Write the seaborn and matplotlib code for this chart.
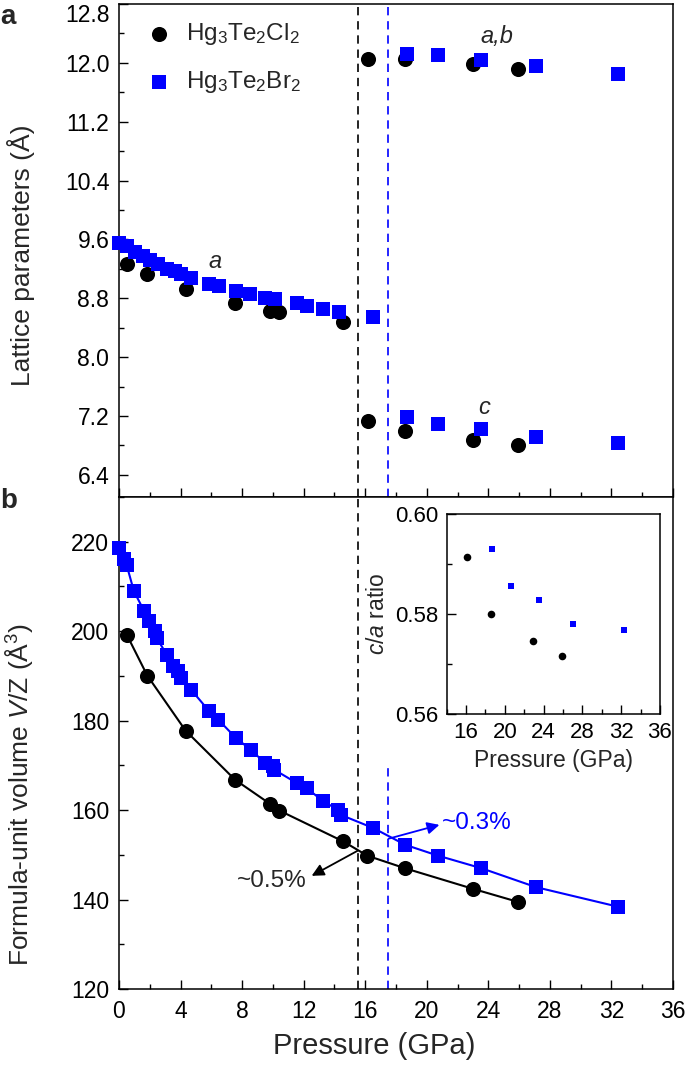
import numpy as np
import pandas as pd
import matplotlib
matplotlib.use("Agg")
import matplotlib.pyplot as plt
from matplotlib.ticker import MultipleLocator, FormatStrFormatter
import seaborn as sns

BLUE = "#0000FF"

# transition pressures (GPa)
p_trans_cl = 15.55
p_trans_br = 17.5

# ---- lattice parameters, Hg3Te2Cl2 ----
p_cl_low = [0.5, 1.84, 4.33, 7.56, 9.81, 10.42, 14.58]
a_cl_low = [9.27, 9.13, 8.93, 8.74, 8.63, 8.61, 8.48]
p_cl_high = [16.15, 18.6, 23.0, 25.9]
ab_cl_high = [12.05, 12.05, 11.98, 11.92]
c_cl_high = [7.13, 7.00, 6.88, 6.81]

# ---- lattice parameters, Hg3Te2Br2 ----
p_br_low = [0.02, 0.5, 1.04, 1.58, 2.01, 2.55, 3.1, 3.64, 4.0, 4.68, 5.85,
            6.5, 7.6, 8.51, 9.49, 10.14, 11.55, 12.2, 13.28, 14.27, 16.53]
a_br_low = [9.55, 9.505, 9.43, 9.37, 9.32, 9.26, 9.20, 9.165, 9.13, 9.08, 9.0,
            8.97, 8.90, 8.86, 8.80, 8.79, 8.73, 8.70, 8.65, 8.61, 8.55]
p_br_high = [18.7, 20.7, 23.55, 27.1, 32.4]
ab_br_high = [12.12, 12.10, 12.045, 11.96, 11.85]
c_br_high = [7.19, 7.09, 7.02, 6.92, 6.83]

# ---- formula-unit volume V/Z ----
p_cl_v = [0.5, 1.84, 4.33, 7.54, 9.81, 10.42, 14.58, 16.14, 18.58, 23.0, 25.9]
v_cl = [199.25, 190.07, 177.76, 166.79, 161.4, 159.9, 152.98, 149.8, 147.0, 142.4, 139.5]

p_br_v = [0.02, 0.32, 0.5, 0.97, 1.64, 1.97, 2.34, 2.45, 3.1, 3.53, 3.85, 4.0,
          4.68, 5.87, 6.45, 7.6, 8.56, 9.49, 10.03, 10.09, 11.55, 12.2, 13.28,
          14.25, 14.4, 16.53, 18.6, 20.7, 23.55, 27.1, 32.4]
v_br = [218.66, 216.04, 214.76, 208.94, 204.46, 202.23, 199.99, 198.5, 194.77,
        192.15, 191.03, 189.55, 186.94, 182.08, 180.22, 176.12, 173.5, 170.53,
        169.77, 169.03, 166.05, 164.93, 161.93, 160.07, 158.95, 155.98, 152.24,
        149.84, 147.0, 142.77, 138.42]

# ---- inset: c/a ratio ----
p_cl_ratio = [16.1, 18.6, 22.9, 25.9]
r_cl = [0.5915, 0.580, 0.5746, 0.5717]
p_br_ratio = [18.7, 20.66, 23.5, 27.0, 32.3]
r_br = [0.593, 0.5856, 0.5829, 0.578, 0.5768]

a_ticks = [6.4, 7.2, 8.0, 8.8, 9.6, 10.4, 11.2, 12.0, 12.8]

sns.set_theme(style="ticks")
plt.rcParams.update({
    "font.family": ["Liberation Sans", "DejaVu Sans"],
    "mathtext.fontset": "custom",
    "mathtext.rm": "Liberation Sans",
    "mathtext.it": "Liberation Sans:italic",
    "mathtext.bf": "Liberation Sans:bold",
    "axes.linewidth": 1.1,
    "axes.edgecolor": "black",
    "xtick.direction": "in",
    "ytick.direction": "in",
    "xtick.major.size": 6.5,
    "ytick.major.size": 6.5,
    "xtick.minor.size": 3.6,
    "ytick.minor.size": 3.6,
    "xtick.major.width": 1.0,
    "ytick.major.width": 1.0,
    "xtick.minor.width": 1.0,
    "ytick.minor.width": 1.0,
    "xtick.major.pad": 8,
    "ytick.major.pad": 7,
    "xtick.color": "black",
    "ytick.color": "black",
    "xtick.labelsize": 16.5,
    "ytick.labelsize": 16.5,
    "axes.labelsize": 19,
})

fig = plt.figure(figsize=(6.85, 10.67), dpi=100)
ax1 = fig.add_axes([0.1737, 0.5342, 0.8088, 0.4621])
ax2 = fig.add_axes([0.1737, 0.0731, 0.8088, 0.4611])

S_CIRC = 118
S_SQ = 95

# ---------------- panel a ----------------
cl_p = p_cl_low + p_cl_high + p_cl_high
cl_val = a_cl_low + ab_cl_high + c_cl_high
br_p = p_br_low + p_br_high + p_br_high
br_val = a_br_low + ab_br_high + c_br_high

sns.scatterplot(x=cl_p, y=cl_val, ax=ax1, marker="o", s=S_CIRC, color="black",
                linewidth=0, label=r"Hg$_3$Te$_2$Cl$_2$", clip_on=False, zorder=3)
sns.scatterplot(x=br_p, y=br_val, ax=ax1, marker="s", s=S_SQ, color=BLUE,
                linewidth=0, label=r"Hg$_3$Te$_2$Br$_2$", clip_on=False, zorder=4)

ax1.axvline(p_trans_cl, color="black", ls=(0, (5, 3.5)), lw=1.2, zorder=1)
ax1.axvline(p_trans_br, color=BLUE, ls=(0, (5, 3.5)), lw=1.2, zorder=1)

ax1.text(6.22, 9.30, "a", style="italic", fontsize=17, ha="center", va="center")
ax1.text(24.58, 12.36, "a,b", style="italic", fontsize=17, ha="center", va="center")
ax1.text(23.73, 7.31, "c", style="italic", fontsize=17, ha="center", va="center")

ax1.set_xlim(0, 36)
ax1.set_ylim(6.1, 12.8)
ax1.xaxis.set_major_locator(MultipleLocator(4))
ax1.xaxis.set_minor_locator(MultipleLocator(2))
ax1.set_yticks(a_ticks, labels=[f"{t:.1f}" for t in a_ticks])
ax1.yaxis.set_minor_locator(MultipleLocator(0.4))
ax1.get_yticklabels()[-1].set_va("top")
ax1.tick_params(axis="x", which="both", labelbottom=False)
ax1.set_ylabel("Lattice parameters (Å)")
ax1.yaxis.set_label_coords(-0.152, 0.49)
ax1.legend(loc="upper left", bbox_to_anchor=(0.015, 0.985), frameon=False,
           fontsize=17.5, handletextpad=0.2, borderaxespad=0, labelspacing=0.9,
           handlelength=1.8)

# ---------------- panel b ----------------
sns.lineplot(x=p_cl_v, y=v_cl, ax=ax2, color="black", lw=1.5, sort=False,
             estimator=None, zorder=2)
sns.lineplot(x=p_br_v, y=v_br, ax=ax2, color=BLUE, lw=1.5, sort=False,
             estimator=None, zorder=2)
sns.scatterplot(x=p_cl_v, y=v_cl, ax=ax2, marker="o", s=S_CIRC, color="black",
                linewidth=0, clip_on=False, zorder=3)
sns.scatterplot(x=p_br_v, y=v_br, ax=ax2, marker="s", s=S_SQ, color=BLUE,
                linewidth=0, clip_on=False, zorder=4)

ax2.axvline(p_trans_cl, color="black", ls=(0, (5, 3.5)), lw=1.2, zorder=1)
ax2.axvline(p_trans_br, ymax=0.451, color=BLUE, ls=(0, (5, 3.5)), lw=1.2, zorder=1)

ax2.annotate("", xy=(12.52, 145.3), xytext=(15.5, 150.9),
             arrowprops=dict(arrowstyle="-|>", color="black", lw=1.3,
                             mutation_scale=18, shrinkA=0, shrinkB=0))
ax2.text(9.92, 144.2, "~0.5%", fontsize=17.5, ha="center", va="center")
ax2.annotate("", xy=(20.82, 156.7), xytext=(17.51, 153.6),
             arrowprops=dict(arrowstyle="-|>", color=BLUE, lw=1.3,
                             mutation_scale=18, shrinkA=0, shrinkB=0))
ax2.text(21.0, 157.2, "~0.3%", fontsize=17.5, color=BLUE, ha="left", va="center")

ax2.set_xlim(0, 36)
ax2.set_ylim(120, 230)
ax2.xaxis.set_major_locator(MultipleLocator(4))
ax2.xaxis.set_minor_locator(MultipleLocator(2))
ax2.yaxis.set_major_locator(MultipleLocator(20))
ax2.yaxis.set_minor_locator(MultipleLocator(10))
ax2.set_xlabel("Pressure (GPa)", fontsize=21)
ax2.xaxis.set_label_coords(0.46, -0.088)
ax2.set_ylabel(r"Formula-unit volume $\it{V}$/Z (Å$^3$)")
ax2.yaxis.set_label_coords(-0.152, 0.395)

# ---------------- inset ----------------
axi = fig.add_axes([0.652, 0.3308, 0.3114, 0.1874])
sns.scatterplot(x=p_cl_ratio, y=r_cl, ax=axi, marker="o", s=30, color="black",
                linewidth=0)
sns.scatterplot(x=p_br_ratio, y=r_br, ax=axi, marker="s", s=24, color=BLUE,
                linewidth=0)
axi.set_xlim(14, 36)
axi.set_ylim(0.56, 0.60)
axi.set_xticks([16, 20, 24, 28, 32, 36])
axi.xaxis.set_minor_locator(MultipleLocator(2))
axi.yaxis.set_major_locator(MultipleLocator(0.02))
axi.yaxis.set_minor_locator(MultipleLocator(0.01))
axi.yaxis.set_major_formatter(FormatStrFormatter("%.2f"))
axi.tick_params(labelsize=16, pad=6)
axi.set_xlabel("Pressure (GPa)", fontsize=16.5, labelpad=4)
axi.set_ylabel(r"$\it{c}$/$\it{a}$ ratio", fontsize=16.5)

fig.text(0.0, 0.996, "a", fontsize=20, fontweight="bold", ha="left", va="top")
fig.text(0.0, 1 - 488 / 1067, "b", fontsize=20, fontweight="bold", ha="left", va="top")

fig.savefig("out.png", dpi=100)
